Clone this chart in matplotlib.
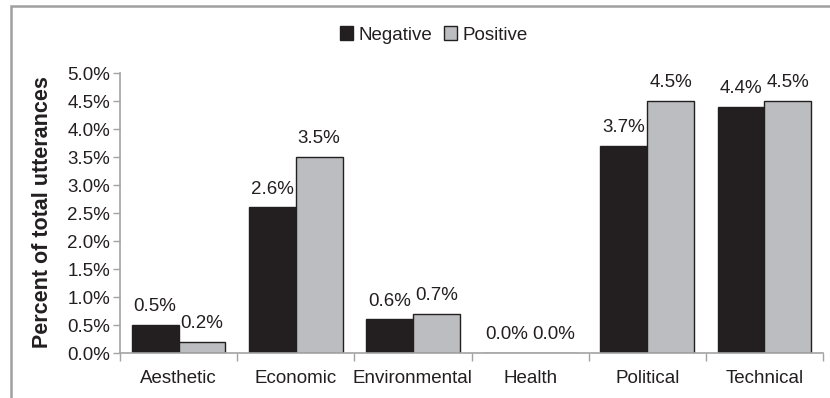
import matplotlib
matplotlib.use("Agg")
import matplotlib.pyplot as plt
from matplotlib.patches import Patch, Rectangle
from matplotlib.ticker import FixedLocator, FuncFormatter
import numpy as np

plt.rcParams['font.family'] = ['Liberation Sans', 'DejaVu Sans']

categories = ["Aesthetic", "Economic", "Environmental", "Health", "Political", "Technical"]
negative = [0.5, 2.6, 0.6, 0.0, 3.7, 4.4]
positive = [0.2, 3.5, 0.7, 0.0, 4.5, 4.5]
y_ticks = [0.0, 0.5, 1.0, 1.5, 2.0, 2.5, 3.0, 3.5, 4.0, 4.5, 5.0]

W, H = 830, 398
fig = plt.figure(figsize=(W / 100, H / 100), dpi=100)
ax = fig.add_axes([120 / W, 1 - 353 / H, (823 - 120) / W, (353 - 73) / H])

dark = '#231f20'
grey = '#bcbdc0'
spine_col = '#a3a3a3'
text_col = '#231f20'
fs = 13.5

x = np.arange(len(categories))
bw = 0.4
b1 = ax.bar(x - bw / 2, negative, bw, color=dark, edgecolor=dark, linewidth=1, label='Negative')
b2 = ax.bar(x + bw / 2, positive, bw, color=grey, edgecolor=dark, linewidth=1, label='Positive')

for bars in (b1, b2):
    ax.bar_label(bars, fmt='%.1f%%', padding=7, fontsize=fs, color=text_col)

ax.set_xlim(-0.5, len(categories) - 0.5)
ax.set_ylim(0, 5.0)

ax.xaxis.set_major_locator(FixedLocator(np.arange(len(categories) + 1) - 0.5))
ax.xaxis.set_major_formatter(FuncFormatter(lambda v, p: ''))
ax.xaxis.set_minor_locator(FixedLocator(x))
ax.set_xticklabels(categories, minor=True)
ax.tick_params(axis='x', which='major', direction='out', length=6, color=spine_col, width=1)
ax.tick_params(axis='x', which='minor', length=0, pad=12, labelsize=fs, labelcolor=text_col)

ax.set_yticks(y_ticks)
ax.yaxis.set_major_formatter(FuncFormatter(lambda v, p: f'{v:.1f}%'))
ax.tick_params(axis='y', direction='out', length=5, color=spine_col, width=1,
               labelsize=fs, labelcolor=text_col, pad=2)

for s in ('top', 'right'):
    ax.spines[s].set_visible(False)
for s in ('left', 'bottom'):
    ax.spines[s].set_color(spine_col)
    ax.spines[s].set_linewidth(1.2)

fig.text(42 / W, 1 - 212 / H, 'Percent of total utterances', rotation=90,
         ha='center', va='center', fontsize=15.5, fontweight='bold', color=text_col)

handles = [Patch(facecolor=dark, edgecolor=dark, label='Negative'),
           Patch(facecolor=grey, edgecolor=dark, label='Positive')]
fig.legend(handles=handles, loc='center', bbox_to_anchor=(434 / W, 1 - 35 / H), ncol=2,
           frameon=False, fontsize=fs, handlelength=0.7, handleheight=0.7,
           handletextpad=0.3, columnspacing=0.6, labelcolor=text_col, borderpad=0)

# outer frame around the chart area
fig.add_artist(Rectangle((11 / W, -0.1), 1.1, 1 - 6 / H + 0.1, transform=fig.transFigure,
                         fill=False, edgecolor='#a0a0a0', linewidth=1.8))

fig.savefig('out.png', dpi=100)
